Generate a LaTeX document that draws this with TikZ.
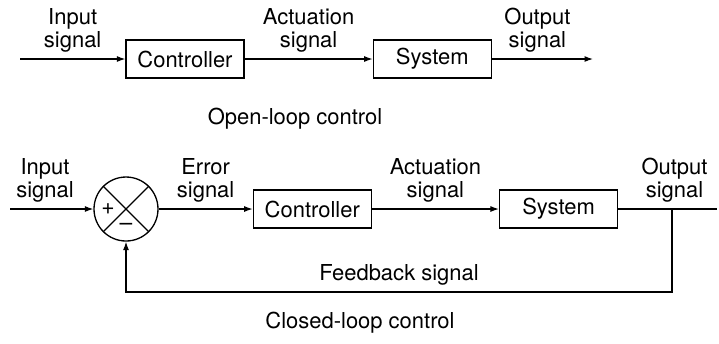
\documentclass[tikz,border=0pt]{standalone}
\usepackage{fontspec}
\setmainfont{TeX Gyre Heros}
\usetikzlibrary{arrows.meta, positioning}

\newcommand{\lblfont}{\fontsize{12.5}{13}\selectfont}
\newcommand{\signfont}{\fontsize{13}{14}\selectfont}

\begin{document}
\begin{tikzpicture}[
    x=0.02cm, y=-0.02cm,
    block/.style={draw, line width=0.75pt, minimum width=2.36cm, minimum height=0.76cm, inner sep=0pt, font=\lblfont},
    sum/.style={draw, circle, line width=0.75pt, minimum size=1.28cm, inner sep=0pt},
    arrow/.style={-{Latex[length=1.7mm, width=1.2mm]}, line width=0.65pt},
    wire/.style={line width=0.65pt},
    lbl/.style={above=3.5pt, align=center, inner sep=0pt, font=\lblfont},
    sign/.style={inner sep=0pt, font=\signfont},
    caption/.style={anchor=base, inner sep=0pt, font=\lblfont}
]
\useasboundingbox (0,0) rectangle (719,343);

% open loop
\coordinate (inA) at (20,59);
\node[block] (ctrlA) at (185,59) {Controller};
\node[block, right=2.56cm of ctrlA] (sysA) {System};
\coordinate (outA) at (593,59);

\draw[arrow] (inA) -- node[lbl] {Input\\signal} (ctrlA);
\draw[arrow] (ctrlA) -- node[lbl] {Actuation\\signal} (sysA);
\draw[arrow] (sysA) -- node[lbl, pos=0.45] {Output\\signal} (outA);

\node[caption] (openlbl) at (295,124) {Open-loop control};

% closed loop
\coordinate (inB) at (10,209);
\node[sum] (sum) at (126,209) {};
\node[block, right=1.88cm of sum] (ctrlB) {Controller};
\node[block, right=2.54cm of ctrlB] (sysB) {System};
\coordinate (outB) at (717,209);
\coordinate (tap) at (672,209);
\coordinate (fbk) at (672,292);

% summing junction
\draw[wire] (sum.north west) -- (sum.south east)
            (sum.north east) -- (sum.south west);
\node[sign] (plus) at ([xshift=-0.36cm]sum.center) {+};
\node[sign] (minus) at ([yshift=-0.35cm]sum.center) {–};

\draw[arrow] (inB) -- node[lbl, pos=0.42] {Input\\signal} (sum);
\draw[arrow] (sum) -- node[lbl] {Error\\signal} (ctrlB);
\draw[arrow] (ctrlB) -- node[lbl] {Actuation\\signal} (sysB);
\draw[wire] (sysB) -- node[lbl, pos=0.57] {Output\\signal} (outB);
\draw[arrow] (tap) -- (fbk) -| node[lbl, pos=0.25] {Feedback signal} (sum);

\node[caption] (closedlbl) at (360,328) {Closed-loop control};

\end{tikzpicture}
\end{document}
